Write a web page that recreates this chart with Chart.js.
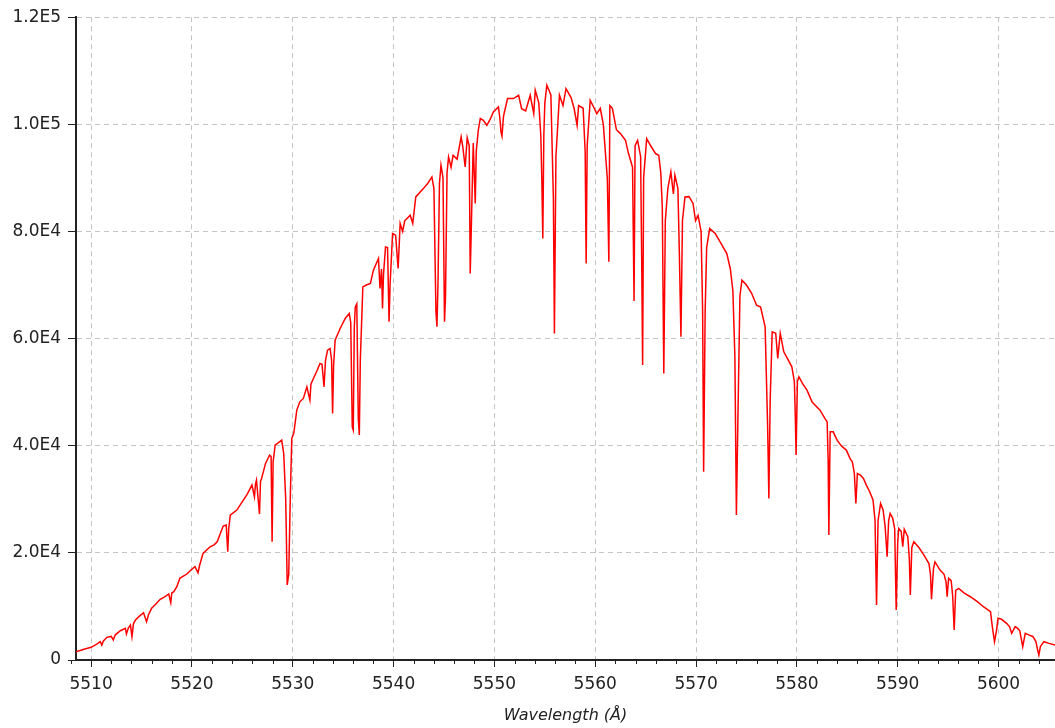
<!DOCTYPE html>
<html>
<head>
<meta charset="utf-8">
<script src="https://cdn.jsdelivr.net/npm/chart.js@4.4.1/dist/chart.umd.min.js"></script>
<style>
  html,body{margin:0;padding:0;background:#fff}
  #wrap{width:1055px;height:728px;position:relative}
</style>
</head>
<body>
<div id="wrap"><canvas id="c"></canvas></div>
<script>
// Spectrum: [wavelength (Å), counts]
const spectrum = [
  [5508.5,1550],[5509.3,2000],[5510.0,2370],[5510.6,3000],[5510.9,3420],[5511.06,2800],[5511.2,3500],[5511.56,4230],
  [5512.0,4400],[5512.2,3730],[5512.4,4700],[5512.9,5470],[5513.4,5910],[5513.5,4850],[5513.7,6000],[5513.9,6530],
  [5514.05,4350],[5514.2,6800],[5514.4,7460],[5514.8,8200],[5515.2,8830],[5515.5,7150],[5515.7,8500],[5516.0,9650],
  [5516.4,10400],[5516.85,11330],[5517.3,11800],[5517.7,12320],[5517.9,10700],[5518.0,12500],[5518.2,12740],[5518.5,13680],
  [5518.8,15240],[5519.1,15600],[5519.5,16050],[5519.9,16800],[5520.3,17410],[5520.6,16290],[5520.75,17600],[5521.1,19900],
  [5521.8,21140],[5522.2,21500],[5522.5,22080],[5523.1,25000],[5523.4,25200],[5523.55,20210],[5523.65,24500],[5523.8,27060],
  [5524.45,27990],[5525.1,29860],[5525.5,31000],[5525.95,32660],[5526.2,30470],[5526.3,32800],[5526.4,33590],[5526.7,27240],
  [5526.8,33400],[5526.9,33830],[5527.3,36700],[5527.7,38250],[5527.85,38000],[5527.95,22080],[5528.05,37000],[5528.25,40120],
  [5528.9,41050],[5529.1,38570],[5529.3,30000],[5529.45,14000],[5529.6,16000],[5529.75,30000],[5529.9,41370],[5530.1,42300],
  [5530.4,46650],[5530.7,48200],[5531.05,48830],[5531.4,51000],[5531.7,48520],[5531.8,51500],[5532.05,52560],[5532.4,54000],
  [5532.7,55360],[5532.9,55200],[5533.1,51000],[5533.25,56000],[5533.45,57850],[5533.7,58160],[5533.85,56000],[5533.95,46030],
  [5534.05,55000],[5534.2,59710],[5534.7,61890],[5535.2,63760],[5535.6,64690],[5535.75,63000],[5535.9,43500],[5536.0,42920],
  [5536.1,62000],[5536.2,65930],[5536.35,66500],[5536.5,45000],[5536.6,41990],[5536.7,56000],[5536.95,69660],[5537.3,70000],
  [5537.7,70290],[5538.0,72770],[5538.5,74950],[5538.65,69350],[5538.8,73000],[5538.9,65630],[5539.0,72000],[5539.2,77120],
  [5539.4,77000],[5539.55,63130],[5539.65,70000],[5539.9,79620],[5540.2,79300],[5540.45,73090],[5540.65,81490],[5540.9,80000],
  [5541.1,82000],[5541.65,83040],[5541.9,81500],[5542.2,86450],[5542.95,88000],[5543.4,89000],[5543.8,90180],[5544.0,88000],
  [5544.2,65000],[5544.3,62200],[5544.4,70000],[5544.55,89000],[5544.7,92370],[5544.9,90000],[5545.05,63130],[5545.15,68000],
  [5545.3,91000],[5545.45,93920],[5545.7,92000],[5545.9,94230],[5546.3,93500],[5546.7,97650],[5546.85,96000],[5547.1,92060],
  [5547.3,97500],[5547.5,96000],[5547.6,72150],[5547.7,80000],[5547.9,96500],[5548.1,85230],[5548.2,95000],[5548.4,98900],
  [5548.6,101080],[5548.9,100760],[5549.25,99830],[5549.6,101000],[5549.9,102310],[5550.4,103250],[5550.55,101000],[5550.65,98580],
  [5550.75,97800],[5550.9,101500],[5551.3,104810],[5551.9,104810],[5552.4,105430],[5552.7,102930],[5553.1,102500],[5553.55,105430],
  [5553.9,102000],[5554.05,106360],[5554.4,104000],[5554.6,98000],[5554.7,90000],[5554.8,78680],[5554.9,98000],[5555.0,104000],
  [5555.2,107300],[5555.6,105500],[5555.85,86100],[5555.95,60970],[5556.1,93900],[5556.45,105430],[5556.8,103500],[5557.1,106670],
  [5557.6,105000],[5557.9,103000],[5558.2,99830],[5558.35,103500],[5558.8,103000],[5559.0,94900],[5559.1,74020],[5559.2,96000],
  [5559.5,104500],[5559.9,103000],[5560.15,102000],[5560.5,103000],[5560.8,100000],[5561.2,89850],[5561.35,74330],[5561.45,103500],
  [5561.7,103000],[5562.1,99000],[5562.5,98270],[5563.0,97000],[5563.3,94540],[5563.7,92000],[5563.85,67000],[5563.95,96000],
  [5564.2,97000],[5564.5,94000],[5564.6,76000],[5564.7,55050],[5564.8,90000],[5565.1,97340],[5565.5,96000],[5566.0,94500],
  [5566.3,94230],[5566.5,91000],[5566.65,84600],[5566.8,53500],[5566.95,82000],[5567.2,88000],[5567.5,91120],[5567.75,87000],
  [5567.9,90500],[5568.2,88000],[5568.35,75260],[5568.5,60330],[5568.65,82000],[5568.9,86450],[5569.3,86500],[5569.7,85230],
  [5569.95,82000],[5570.2,83000],[5570.5,80000],[5570.65,65300],[5570.75,35140],[5570.9,65000],[5571.05,77000],[5571.35,80540],
  [5571.9,79620],[5572.4,78000],[5573.05,75880],[5573.4,73000],[5573.65,69000],[5573.85,56600],[5574.0,27060],[5574.15,45000],
  [5574.35,68000],[5574.55,70910],[5575.0,70000],[5575.5,68500],[5576.0,66240],[5576.4,65900],[5576.85,62200],[5577.1,43500],
  [5577.22,30160],[5577.35,48500],[5577.55,61270],[5577.9,61000],[5578.1,56300],[5578.35,60970],[5578.7,57540],[5579.0,56500],
  [5579.5,54740],[5579.75,52000],[5579.85,45000],[5579.92,38250],[5580.05,52000],[5580.2,52870],[5580.6,51500],[5581.0,50380],
  [5581.5,48200],[5581.65,47890],[5582.3,46650],[5582.8,45000],[5583.0,44470],[5583.1,37320],[5583.17,23330],[5583.3,42610],
  [5583.6,42600],[5584.0,41000],[5584.4,40000],[5584.9,39190],[5585.3,37500],[5585.5,37000],[5585.7,34830],[5585.85,29230],
  [5586.0,34800],[5586.3,34500],[5586.6,33900],[5586.9,32600],[5587.2,31500],[5587.55,29860],[5587.75,26100],[5587.9,10260],
  [5588.05,26000],[5588.3,29230],[5588.55,28000],[5588.75,25000],[5588.95,19280],[5589.1,26000],[5589.25,27370],[5589.5,26500],
  [5589.7,24500],[5589.85,9330],[5590.0,22000],[5590.1,24570],[5590.35,24000],[5590.5,21140],[5590.65,24400],[5591.0,23000],
  [5591.15,19000],[5591.25,12130],[5591.4,21000],[5591.6,22080],[5592.1,21000],[5592.6,19590],[5593.1,18000],[5593.25,16000],
  [5593.35,11330],[5593.55,17110],[5593.7,18300],[5594.2,16790],[5594.6,16000],[5594.8,14500],[5594.9,11810],[5595.05,15240],
  [5595.3,14800],[5595.45,12000],[5595.6,5600],[5595.75,13000],[5596.05,13380],[5596.6,12500],[5597.2,11810],[5597.9,10900],
  [5598.5,9950],[5599.2,9010],[5599.4,6000],[5599.6,3420],[5599.8,5500],[5599.95,7780],[5600.3,7600],[5600.8,6850],
  [5601.1,6200],[5601.3,4980],[5601.65,6220],[5601.9,5900],[5602.1,5500],[5602.4,2480],[5602.65,4980],[5603.0,4700],
  [5603.4,4400],[5603.7,3500],[5603.85,2100],[5604.0,930],[5604.15,2500],[5604.5,3420],[5605.0,3100],[5605.6,2800]
];

const xMajorTicks = [5510,5520,5530,5540,5550,5560,5570,5580,5590,5600];
const yTicks = [0,20000,40000,60000,80000,100000,120000];
const yTickLabels = ['0','2.0E4','4.0E4','6.0E4','8.0E4','1.0E5','1.2E5'];
const xMin = 5508.5, xMax = 5605.6;

// minor ticks every 2 Å
const xAllTicks = [];
for (let v = 5508; v <= 5604; v += 2) xAllTicks.push(v);
const isMajor = v => xMajorTicks.includes(v);

const ink = '#222';
const font = {family:'DejaVu Sans', size:17};

const minorTicks = {
  id:'minorTicks',
  afterDraw(chart){
    const s = chart.scales.x, ctx = chart.ctx;
    ctx.save(); ctx.strokeStyle = ink; ctx.lineWidth = 1;
    s.ticks.forEach(t => {
      if (isMajor(t.value)) return;
      const px = Math.round(s.getPixelForValue(t.value)) + 0.5;
      ctx.beginPath(); ctx.moveTo(px, s.top); ctx.lineTo(px, s.top + 4); ctx.stroke();
    });
    ctx.restore();
  }
};

new Chart(document.getElementById('c'), {
  type:'line',
  data:{ datasets:[{
    data: spectrum.map(([x,y]) => ({x,y})),
    borderColor:'#ff0000', borderWidth:1.5, pointRadius:0, tension:0, fill:false
  }]},
  options:{
    responsive:true, maintainAspectRatio:false, animation:false,
    layout:{ padding:{top:17, right:0, left:0, bottom:0} },
    plugins:{ legend:{display:false}, tooltip:{enabled:false} },
    scales:{
      x:{
        type:'linear', min:xMin, max:xMax,
        afterBuildTicks: s => { s.ticks = xAllTicks.map(v => ({value:v})); },
        afterFit: s => { s.height = 68; },
        ticks:{ autoSkip:false, maxRotation:0, padding:7, color:ink, font,
          callback: v => isMajor(v) ? String(v) : '' },
        grid:{ color: c => (c.tick && isMajor(c.tick.value)) ? '#c4c4c4' : 'rgba(0,0,0,0)',
          lineWidth:1, tickLength:7,
          tickColor: c => (c.tick && isMajor(c.tick.value)) ? ink : 'rgba(0,0,0,0)' },
        border:{ color:ink, width:2, dash:[5,4] },
        title:{ display:true, text:'Wavelength (Å)', color:ink,
          font:{family:'DejaVu Sans', size:16, style:'italic'}, padding:{top:0, bottom:3} }
      },
      y:{
        min:0, max:120000,
        afterBuildTicks: s => { s.ticks = yTicks.map(v => ({value:v})); },
        afterFit: s => { s.width = 76; },
        ticks:{ padding:7, color:ink, font,
          callback: v => yTickLabels[yTicks.indexOf(v)] },
        grid:{ color:'#c4c4c4', lineWidth:1, tickLength:8, tickColor:ink },
        border:{ color:ink, width:2, dash:[5,4] }
      }
    }
  },
  plugins:[minorTicks]
});
</script>
</body>
</html>
